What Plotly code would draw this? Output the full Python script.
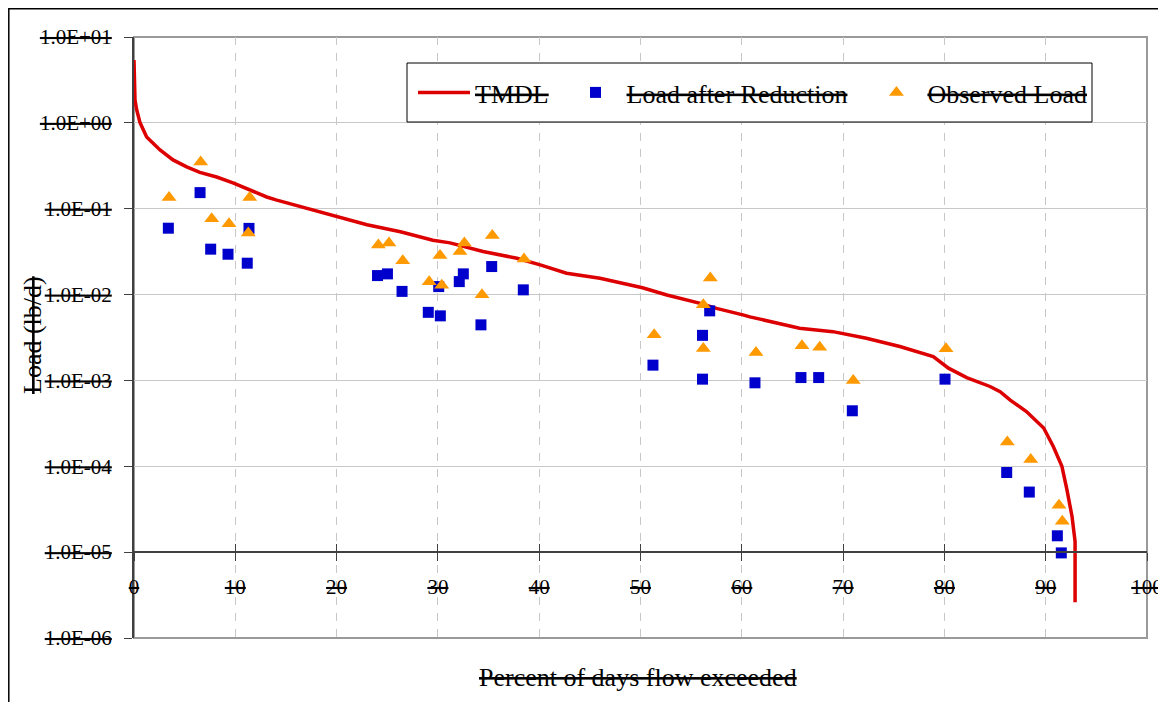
import plotly.graph_objects as go

# TMDL load duration curve (percent of days flow exceeded, lb/d)
tmdl_x = [0, 0.1, 0.27, 0.6, 1.25, 2.57, 3.85, 5.2, 6.5, 8.16, 9.77, 11.45, 13.1, 14.1,
          16.4, 20.0, 23.0, 26.3, 29.5, 31.2, 34.45, 37.8, 40.1, 42.7, 46.0, 50.2, 52.6,
          55.9, 57.5, 60.1, 60.8, 65.7, 69.0, 72.3, 75.6, 78.9, 80.4, 82.2, 84.5, 85.5,
          86.5, 88.1, 89.8, 90.75, 91.6, 92.1, 92.6, 92.9, 92.9]
tmdl_y = [5.4, 1.85, 1.41, 1.0, 0.685, 0.484, 0.37, 0.307, 0.265, 0.234, 0.2, 0.166, 0.137, 0.126,
          0.106, 0.081, 0.065, 0.054, 0.043, 0.040, 0.0317, 0.0265, 0.0222, 0.0177, 0.0155, 0.012, 0.0099,
          0.0079, 0.0069, 0.0058, 0.0055, 0.00406, 0.0037, 0.0031, 0.00248, 0.0019, 0.00139, 0.00108, 0.00085, 0.00074,
          0.00059, 0.000434, 0.000279, 0.00017, 0.0001, 5.3e-5, 2.6e-5, 1.33e-5, 2.6e-6]

# Load after Reduction
red_x = [3.39, 6.52, 7.57, 9.28, 11.18, 11.35, 24.04, 25.02, 26.46, 29.05, 30.24, 30.08, 32.11, 32.51,
         34.25, 35.31, 38.43, 51.23, 56.12, 56.83, 56.12, 61.3, 65.84, 67.59, 70.91, 80.06, 86.15,
         88.38, 91.15, 91.54]
red_y = [0.0593, 0.154, 0.0338, 0.0295, 0.0232, 0.059, 0.01664, 0.01742, 0.01089, 0.00621, 0.00565,
         0.01239, 0.01416, 0.01742, 0.00444, 0.0212, 0.01135, 0.001507, 0.00335, 0.00646, 0.001035,
         0.000938, 0.00108, 0.00108, 0.000443, 0.001035, 8.47e-5, 5.01e-5, 1.55e-5, 9.8e-6]

# Observed Load
obs_x = [3.46, 6.58, 7.67, 9.38, 11.42, 11.28, 24.12, 25.17, 26.53, 29.14, 30.21, 30.38, 32.18, 32.61,
         34.35, 35.37, 38.5, 51.35, 56.2, 56.89, 56.2, 61.4, 65.94, 67.69, 71.0, 80.16, 86.21, 88.52,
         91.31, 91.64]
obs_y = [0.1355, 0.349, 0.0766, 0.0669, 0.1355, 0.052, 0.0377, 0.0398, 0.0248, 0.0141, 0.0286, 0.0128,
         0.0318, 0.0398, 0.00998, 0.0489, 0.0259, 0.00341, 0.00762, 0.01556, 0.00235, 0.00212, 0.00254,
         0.00243, 0.000995, 0.00234, 0.000192, 0.00012, 3.52e-5, 2.29e-5]

x_ticks = [0, 10, 20, 30, 40, 50, 60, 70, 80, 90, 100]
y_ticks = [1e-6, 1e-5, 1e-4, 1e-3, 1e-2, 1e-1, 1e0, 1e1]
y_labels = ["1.0E-06", "1.0E-05", "1.0E-04", "1.0E-03", "1.0E-02", "1.0E-01", "1.0E+00", "1.0E+01"]


def strike(t):
    return ('<span style="text-decoration:line-through;text-decoration-color:#FF0000;'
            'text-decoration-thickness:2px">' + t + '</span>')


NB = "\u00a0"
FONT = "Liberation Serif"

fig = go.Figure()
fig.add_trace(go.Scatter(x=tmdl_x, y=tmdl_y, mode="lines", name=strike("TMDL") + NB + "\u2006",
                         line=dict(color="#DD0000", width=3.5)))
fig.add_trace(go.Scatter(x=red_x, y=red_y, mode="markers", name=strike("Load after Reduction") + NB * 2,
                         marker=dict(symbol="square", size=11, color="#0000CC")))
fig.add_trace(go.Scatter(x=obs_x, y=obs_y, mode="markers", name=strike("Observed Load"),
                         marker=dict(symbol="triangle-up", size=13, color="#FF9900")))
# invisible helper trace so the inward tick axis is drawn
fig.add_trace(go.Scatter(x=tmdl_x, y=tmdl_y, xaxis="x2", mode="lines", line=dict(width=0),
                         showlegend=False, hoverinfo="skip"))

# page body has an 8px margin, so the figure is placed 8px right/down in the window
L, R, T, B = 126, 19, 29, 64
pw, ph = 1147 - 134, 638 - 37


def px(p):
    return (p - 134) / pw


def py(p):
    return (638 - p) / ph


fig.update_layout(
    width=1158, height=694,
    margin=dict(l=L, r=R, t=T, b=B, autoexpand=False),
    paper_bgcolor="white", plot_bgcolor="white",
    font=dict(family=FONT, color="black", size=21),
    showlegend=True,
    legend=dict(orientation="h", x=px(413), y=py(69), xanchor="left", yanchor="top",
                bgcolor="rgba(0,0,0,0)", borderwidth=0, itemwidth=52,
                font=dict(size=26, family=FONT)),
    xaxis=dict(range=[0, 100], tickvals=x_ticks, ticktext=[strike(str(v)) for v in x_ticks],
               anchor="free", position=1 / 7, showline=True, linecolor="#404040", linewidth=2,
               ticks="outside", ticklen=8, tickwidth=1, tickcolor="#404040", automargin=False,
               showgrid=True, gridcolor="#C8C8C8", gridwidth=1, griddash="8px,8px",
               zeroline=False, ticklabelstandoff=8, tickfont=dict(size=21, family=FONT)),
    xaxis2=dict(range=[0, 100], overlaying="x", anchor="free", position=1 / 7, tickvals=x_ticks,
                showticklabels=False, ticks="inside", ticklen=8, tickwidth=1, tickcolor="#404040",
                showgrid=False, showline=False, zeroline=False, automargin=False),
    yaxis=dict(type="log", range=[-6, 1], tickvals=y_ticks, ticktext=[strike(t) for t in y_labels],
               showline=True, linecolor="#404040", linewidth=2, automargin=False,
               ticks="outside", ticklen=8, tickwidth=1, tickcolor="#404040",
               showgrid=True, gridcolor="#C8C8C8", gridwidth=1, zeroline=False,
               ticklabelstandoff=8, tickfont=dict(size=21, family=FONT)),
    shapes=[
        # plot frame
        dict(type="rect", xref="x domain", yref="y domain", x0=0, x1=1, y0=0, y1=1,
             line=dict(color="#9A9A9A", width=2), layer="below"),
        # outer chart border
        dict(type="rect", xref="paper", yref="paper", x0=px(8.8), x1=px(1163),
             y0=-0.3, y1=py(8.8), line=dict(color="black", width=1.5), layer="above"),
        # legend box
        dict(type="rect", xref="paper", yref="paper", x0=px(407), x1=px(1092),
             y0=py(122), y1=py(63), line=dict(color="black", width=1),
             fillcolor="white", layer="above"),
    ],
    annotations=[
        dict(text=strike("Percent of days flow exceeded"), xref="paper", yref="paper",
             x=px(638), y=py(677), showarrow=False, font=dict(size=26, family=FONT),
             xanchor="center", yanchor="middle"),
        dict(text=strike("Load (lb/d)"), xref="paper", yref="paper", textangle=-90,
             x=px(32), y=py(335), showarrow=False, font=dict(size=26, family=FONT),
             xanchor="center", yanchor="middle"),
    ],
)

fig.write_html("out.html")
